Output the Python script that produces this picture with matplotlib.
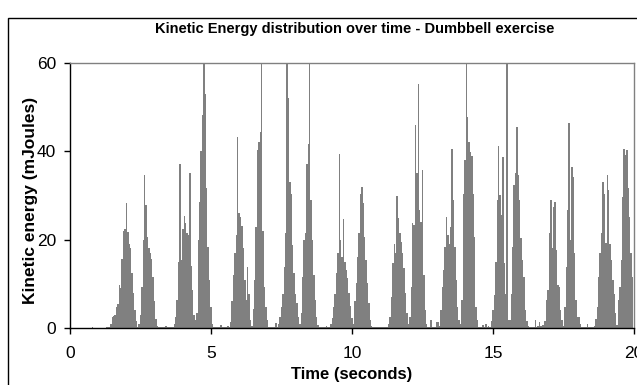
import numpy as np
import matplotlib
matplotlib.use("Agg")
import matplotlib.pyplot as plt
from matplotlib.patches import Rectangle

plt.rcParams['font.family'] = ['Liberation Sans', 'DejaVu Sans']

# Kinetic energy (mJoules), sampled every 0.05 s (20 values per second)
sample_rate = 20.0
energy_rows = [
    [0, 0, 0, 0, 0, 0, 0, 0, 0, 0, 0, 0, 0, 0, 0, 0, 0.3, 0, 0, 0],
    [0, 0, 0, 0, 0, 0.1, 0.2, 0.2, 0.3, 0.8, 2.6, 2.8, 3.0, 4.8, 5.5, 9.7, 9.0, 15.5, 22.0, 22.5],
    [28.2, 21.8, 19.0, 18.0, 12.4, 8.0, 4.0, 1.5, 0.3, 1.0, 3.0, 9.3, 20.0, 34.6, 27.8, 20.6, 18.0, 17.0, 15.5, 11.6],
    [6.0, 2.0, 0.5, 0.2, 0.2, 0.2, 0.2, 0.2, 0.5, 0.2, 0.2, 0.2, 0.2, 0.2, 1.0, 2.5, 6.3, 15.0, 37.2, 15.4],
    [22.5, 25.3, 23.7, 21.4, 21.0, 35.0, 14.0, 8.6, 3.0, 1.8, 3.5, 20.0, 28.6, 40.0, 48.2, 66.0, 53.0, 31.6, 18.4, 10.9],
    [4.8, 1.0, 0.2, 0.2, 0.3, 0.2, 0.2, 0.6, 0.2, 0.2, 0.2, 0.2, 0.5, 0.3, 1.4, 6.0, 12.0, 17.0, 21.0, 43.2],
    [26.0, 25.0, 23.0, 18.0, 10.9, 6.3, 13.9, 7.8, 1.8, 0.5, 4.4, 10.9, 22.9, 40.2, 42.0, 44.4, 70.0, 22.0, 9.3, 4.8],
    [1.8, 0.3, 0.2, 0.2, 0.2, 0.2, 1.2, 0.3, 1.0, 2.6, 4.8, 7.8, 13.9, 21.4, 72.0, 52.0, 33.0, 30.4, 18.8, 12.4],
    [7.8, 5.6, 2.6, 1.0, 3.3, 11.6, 20.0, 21.4, 37.2, 41.7, 68.0, 29.0, 20.0, 12.0, 6.3, 2.6, 0.7, 0.3, 0.3, 0.3],
    [0.3, 0.3, 0.5, 0.3, 0.3, 1.0, 2.2, 4.8, 7.8, 12.4, 16.9, 39.3, 20.0, 16.0, 24.6, 15.0, 13.1, 11.2, 8.0, 5.0],
    [2.2, 1.0, 6.0, 10.1, 16.1, 21.4, 30.4, 32.0, 28.2, 20.6, 15.4, 10.1, 5.6, 1.8, 0.5, 0.2, 0.2, 0.2, 0.2, 0.2],
    [0.2, 0.2, 0.2, 0.2, 0.2, 0.2, 0.8, 2.6, 7.0, 14.6, 19.1, 17.0, 29.8, 24.8, 21.4, 19.5, 17.0, 13.5, 8.0, 3.5],
    [0.8, 2.6, 9.3, 23.7, 23.3, 45.9, 35.0, 55.2, 26.7, 24.0, 35.7, 12.0, 4.0, 1.0, 0.3, 0.2, 1.8, 0.2, 0.2, 0.2],
    [1.4, 1.4, 0.5, 4.0, 9.3, 13.1, 18.4, 25.2, 21.0, 19.1, 22.9, 40.4, 28.9, 18.4, 10.9, 4.8, 1.8, 1.0, 6.3, 30.4],
    [38.0, 70.0, 47.8, 42.1, 39.9, 39.0, 30.4, 20.6, 4.8, 1.8, 0.3, 0.2, 0.3, 0.7, 0.3, 1.0, 0.3, 0.5, 0.3, 1.5],
    [4.0, 7.5, 15.0, 28.9, 41.1, 30.0, 25.5, 38.7, 14.6, 7.8, 68.0, 1.8, 1.8, 7.8, 18.4, 32.3, 35.0, 45.5, 34.6, 28.9],
    [20.3, 15.4, 11.6, 4.0, 1.5, 0.5, 0.3, 0.3, 0.3, 0.3, 1.8, 0.3, 0.5, 1.4, 0.5, 0.7, 0.7, 1.5, 6.3, 8.6],
    [21.4, 28.9, 18.0, 27.4, 28.6, 17.6, 9.7, 9.3, 4.0, 1.8, 0.5, 4.8, 13.9, 26.7, 46.3, 20.0, 36.5, 34.2, 16.9, 6.3],
    [2.6, 2.6, 1.0, 0.3, 0.3, 0.3, 0.3, 1.0, 0.3, 0.3, 0.3, 0.3, 0.5, 2.0, 4.8, 11.6, 16.9, 21.4, 33.1, 30.4],
    [19.3, 34.6, 31.2, 19.1, 15.4, 10.9, 7.8, 3.3, 0.7, 6.3, 9.3, 15.4, 29.7, 40.4, 39.1, 40.2, 31.6, 25.2, 16.9, 11.6],
]
x_ticks = [0, 5, 10, 15, 20]
y_ticks = [0, 20, 40, 60]
title = "Kinetic Energy distribution over time - Dumbbell exercise"
x_label = "Time (seconds)"
y_label = "Kinetic energy (mJoules)"

energy = np.concatenate([np.array(r, dtype=float) for r in energy_rows])
times = np.arange(len(energy)) / sample_rate

W, H = 637, 385
fig = plt.figure(figsize=(W / 100, H / 100), dpi=100)
fig.patch.set_facecolor('white')

# outer chart border (black)
fig.patches.append(Rectangle((8 / W, -0.05), 1.2, (H - 18) / H + 0.05,
                             transform=fig.transFigure, fill=False,
                             edgecolor='black', linewidth=1.0))

ax = fig.add_axes([70 / W, (H - 328) / H, (634 - 70) / W, (328 - 62.7) / H])
ax.bar(times, energy, width=0.05, color='#808080', linewidth=0, align='center')

ax.set_xlim(0, 20)
ax.set_ylim(0, 60)
ax.set_xticks(x_ticks)
ax.set_yticks(y_ticks)
ax.set_xticklabels([str(v) for v in x_ticks])
ax.set_yticklabels([str(v) for v in y_ticks])
ax.tick_params(axis='both', direction='out', length=4, width=1, color='black',
               labelsize=12.5)
ax.tick_params(axis='x', pad=9)
ax.tick_params(axis='y', pad=6)

for s in ['left', 'bottom']:
    ax.spines[s].set_color('black')
    ax.spines[s].set_linewidth(1.0)
for s in ['top', 'right']:
    ax.spines[s].set_color('#808080')
    ax.spines[s].set_linewidth(1.0)

fig.text(355 / W, 1 - 29 / H, title, ha='center', va='center',
         fontsize=10.5, fontweight='bold')
fig.text(352 / W, 1 - 375 / H, x_label, ha='center', va='center',
         fontsize=12, fontweight='bold')
fig.text(30 / W, 1 - 200 / H, y_label, ha='center', va='center',
         rotation=90, fontsize=12.5, fontweight='bold')

fig.savefig('out.png', dpi=100, facecolor='white')
